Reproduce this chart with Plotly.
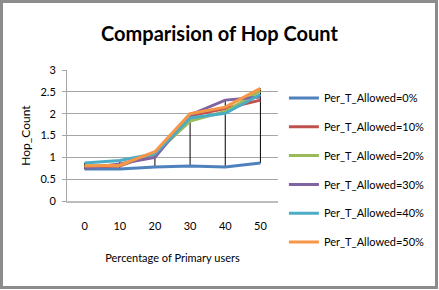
import plotly.graph_objects as go

categories = ["0", "10", "20", "30", "40", "50"]
series_names = ["Per_T_Allowed=0%", "Per_T_Allowed=10%", "Per_T_Allowed=20%",
                "Per_T_Allowed=30%", "Per_T_Allowed=40%", "Per_T_Allowed=50%"]
s0 = [0.73, 0.73, 0.78, 0.80, 0.78, 0.87]
s10 = [0.78, 0.80, 1.10, 1.95, 2.12, 2.31]
s20 = [0.80, 0.82, 1.08, 1.83, 2.05, 2.52]
s30 = [0.75, 0.85, 1.00, 1.97, 2.31, 2.38]
s40 = [0.87, 0.93, 1.08, 1.90, 2.01, 2.44]
s50 = [0.80, 0.82, 1.13, 2.00, 2.15, 2.58]
colors = ["#4F81BD", "#C0504D", "#9BBB59", "#8064A2", "#4BACC6", "#F79646"]
y_ticks = [0, 0.5, 1, 1.5, 2, 2.5, 3]

all_series = [s0, s10, s20, s30, s40, s50]

fig = go.Figure()

# high-low lines
hx, hy = [], []
for i, c in enumerate(categories):
    vals = [s[i] for s in all_series]
    hx += [c, c, None]
    hy += [max(vals), min(vals), None]
fig.add_trace(go.Scatter(x=hx, y=hy, mode="lines", line=dict(color="black", width=1),
                         showlegend=False, hoverinfo="skip"))

for k, (name, s, col) in enumerate(zip(series_names, all_series, colors)):
    fig.add_trace(go.Scatter(x=categories, y=s, mode="lines", name=name,
                             line=dict(color=col, width=3), legendgroup=f"g{k}"))

fig.update_layout(
    width=439, height=290,
    margin=dict(l=67, r=161, t=70, b=89, autoexpand=False),
    paper_bgcolor="white", plot_bgcolor="white",
    font=dict(family="Lato, Roboto, sans-serif", size=11, color="black"),
    title=dict(text="<b>Comparision of Hop Count</b>", x=0.5, xanchor="center",
               y=1 - 27 / 290, yanchor="top",
               font=dict(family="Lato, Roboto, sans-serif", size=20, color="black")),
    legend=dict(x=1.028, xanchor="left", y=0.897, yanchor="top", maxheight=290,
                font=dict(size=11), tracegroupgap=9.8, bgcolor="rgba(0,0,0,0)"),
    shapes=[dict(type="rect", xref="paper", yref="paper",
                 x0=(1.5 - 67) / 211, x1=(436.5 - 67) / 211,
                 y0=(201 - 287.5) / 131, y1=(201 - 1.5) / 131,
                 line=dict(color="#8C8C8C", width=3), fillcolor="rgba(0,0,0,0)",
                 layer="below")],
)

fig.update_xaxes(type="category", range=[-0.5, 5.5], showgrid=False,
                 showline=True, linecolor="#BDBDBD", linewidth=2,
                 ticks="", ticklabelstandoff=14, automargin=False,
                 title=dict(text="Percentage of Primary users", standoff=23,
                            font=dict(size=11)))
fig.update_yaxes(range=[0, 3], tickvals=y_ticks, ticktext=[str(v) for v in y_ticks],
                 showgrid=True, gridcolor="#A6A6A6", gridwidth=1,
                 showline=True, linecolor="#A6A6A6", linewidth=1,
                 ticks="outside", ticklen=4, tickcolor="#A6A6A6",
                 ticklabelstandoff=4, zeroline=False, automargin=False,
                 title=dict(text="Hop_Count", standoff=7, font=dict(size=12)))

fig.write_html("out.html", config={"displayModeBar": False},
               post_script="document.body.style.margin='0';")
